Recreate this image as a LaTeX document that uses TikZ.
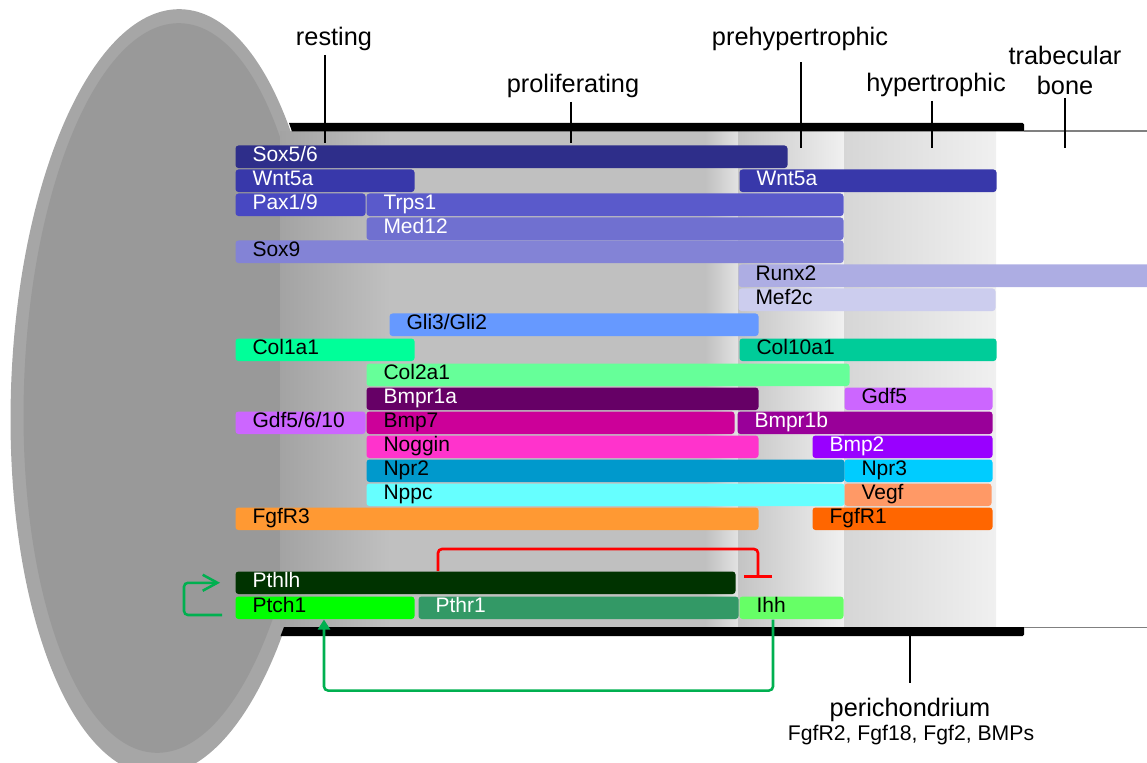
\documentclass[tikz,border=0pt]{standalone}
\usepackage{fontspec}
\setmainfont{Liberation Sans}
\usetikzlibrary{arrows.meta}

\definecolor{csoxfs}{HTML}{2E2E8A}
\definecolor{cwnt}{HTML}{3838AA}
\definecolor{cpax}{HTML}{4848C2}
\definecolor{ctrps}{HTML}{5A5ACB}
\definecolor{cmed}{HTML}{7070D0}
\definecolor{csoxn}{HTML}{8383D6}
\definecolor{crunx}{HTML}{ADADE3}
\definecolor{cmef}{HTML}{CCCDEE}
\definecolor{cgli}{HTML}{6699FF}
\definecolor{ccolA}{HTML}{00FF99}
\definecolor{ccolX}{HTML}{00CC99}
\definecolor{ccolB}{HTML}{66FF99}
\definecolor{cbmprA}{HTML}{660066}
\definecolor{cgdf}{HTML}{CC66FF}
\definecolor{cbmpS}{HTML}{CC0099}
\definecolor{cbmprB}{HTML}{990099}
\definecolor{cnog}{HTML}{FF33CC}
\definecolor{cbmpT}{HTML}{9900FF}
\definecolor{cnprB}{HTML}{0099CC}
\definecolor{cnprC}{HTML}{00CCFF}
\definecolor{cnppc}{HTML}{66FFFF}
\definecolor{cvegf}{HTML}{FF9966}
\definecolor{cfgfrC}{HTML}{FF9933}
\definecolor{cfgfrA}{HTML}{FF6600}
\definecolor{cpthlh}{HTML}{003300}
\definecolor{cptch}{HTML}{00FF00}
\definecolor{cpthr}{HTML}{339966}
\definecolor{cihh}{HTML}{66FF66}
\definecolor{cactiv}{HTML}{00B050}

\tikzset{every picture/.style={line width=0.75pt}}
\tikzset{
  gene/.style={anchor=north west, rounded corners=2.25pt, inner xsep=12.75pt, inner ysep=0pt,
    minimum height=16.9pt, align=left, text height=0.72em, text depth=0.08em,
    font=\fontsize{15.75}{18}\selectfont},
  wtext/.style={text=white},
  barlen/.code={\pgfmathsetmacro\barw{#1*0.75-25.5}\edef\barset{\noexpand\tikzset{text width=\barw pt}}\barset},
  zone/.style={anchor=base, inner sep=0.75pt, font=\fontsize{19}{22.5}\selectfont},
  tick/.style={line width=1.5pt, shorten <=1.5pt},
  inhib/.style={draw=red, line width=2pt, rounded corners=3pt, -{Bar[width=21pt]}},
  activ/.style={draw=cactiv, line width=1.9pt, rounded corners=3pt}
}

\begin{document}
\begin{tikzpicture}[x=0.75pt,y=0.75pt,yscale=-1,xscale=1]
\useasboundingbox (0,0) rectangle (1147,763);

%Shape: Ellipse (epiphysis)
\fill [color={rgb, 255:red, 166; green, 166; blue, 166 }, rotate around={2:(168,392)}] (168,392) ellipse (157 and 383) ;
\fill [color={rgb, 255:red, 153; green, 153; blue, 153 }, rotate around={2:(168,388)}] (168,388) ellipse (144 and 365) ;

%Shape: Rectangle (zones)
\shade [left color={rgb, 255:red, 163; green, 163; blue, 163 }, right color={rgb, 255:red, 192; green, 192; blue, 192 }] (280,131.5) rectangle (390,627) ;
\fill [color={rgb, 255:red, 192; green, 192; blue, 192 }] (389.5,131.5) rectangle (705.5,627) ;
\shade [left color={rgb, 255:red, 192; green, 192; blue, 192 }, right color={rgb, 255:red, 226; green, 226; blue, 226 }] (705,131.5) rectangle (738,627) ;
\shade [left color={rgb, 255:red, 196; green, 196; blue, 196 }, right color={rgb, 255:red, 240; green, 240; blue, 240 }] (738,131.5) rectangle (844,627) ;
\shade [left color={rgb, 255:red, 214; green, 214; blue, 214 }, middle color={rgb, 255:red, 203; green, 203; blue, 203 }, right color={rgb, 255:red, 240; green, 240; blue, 240 }] (844,131.5) rectangle (996,627) ;

%Shape: Polygon (perichondrium, top and bottom)
\fill (289,123) -- (1022.5,123) -- (1024,124.5) -- (1024,131.5) -- (292,131.5) -- cycle ;
\fill (284,627) -- (1024,627) -- (1024,634.5) -- (1022.5,636) -- (280.5,636) -- cycle ;
\draw [color=gray, line width=1pt] (1024,131) -- (1147,131) ;
\draw [color=gray, line width=1pt] (1024,627.5) -- (1147,627.5) ;

%Gene bars
\node [gene, fill=csoxfs, wtext, barlen=552] (soxfs) at (235,145) {Sox5/6};
\node [gene, fill=cwnt, wtext, barlen=179] (wntA) at (235,169) {Wnt5a};
\node [gene, fill=cwnt, wtext, barlen=257] (wntB) at (739,169) {Wnt5a};
\node [gene, fill=cpax, wtext, barlen=130] (pax) at (235,193) {Pax1/9};
\node [gene, fill=ctrps, wtext, barlen=477] (trps) at (366,193) {Trps1};
\node [gene, fill=cmed, wtext, barlen=477] (med) at (366,217) {Med12};
\node [gene, fill=csoxn, barlen=608] (soxn) at (235,240) {Sox9};
\node [gene, fill=crunx, barlen=420] (runx) at (738,264) {Runx2};
\node [gene, fill=cmef, barlen=257] (mef) at (738,288) {Mef2c};
\node [gene, fill=cgli, barlen=369] (gli) at (389,313) {Gli3/Gli2};
\node [gene, fill=ccolA, barlen=179] (colA) at (235,338) {Col1a1};
\node [gene, fill=ccolX, barlen=257] (colX) at (739,338) {Col10a1};
\node [gene, fill=ccolB, barlen=483] (colB) at (366,363) {Col2a1};
\node [gene, fill=cbmprA, wtext, barlen=392] (bmprA) at (366,387) {Bmpr1a};
\node [gene, fill=cgdf, barlen=148] (gdfA) at (844,387) {Gdf5};
\node [gene, fill=cgdf, barlen=130] (gdfB) at (235,411) {Gdf5/6/10};
\node [gene, fill=cbmpS, barlen=368] (bmpS) at (366,411) {Bmp7};
\node [gene, fill=cbmprB, wtext, barlen=255] (bmprB) at (737,411) {Bmpr1b};
\node [gene, fill=cnog, barlen=392] (nog) at (366,435) {Noggin};
\node [gene, fill=cbmpT, wtext, barlen=180] (bmpT) at (812,435) {Bmp2};
\node [gene, fill=cnprB, barlen=478] (nprB) at (366,459) {Npr2};
\node [gene, fill=cnprC, barlen=148] (nprC) at (844,459) {Npr3};
\node [gene, fill=cnppc, barlen=478] (nppc) at (366,483) {Nppc};
\node [gene, fill=cvegf, barlen=147] (vegf) at (844,483) {Vegf};
\node [gene, fill=cfgfrC, barlen=523] (fgfrC) at (235,507) {FgfR3};
\node [gene, fill=cfgfrA, barlen=180] (fgfrA) at (812,507) {FgfR1};
\node [gene, fill=cpthlh, wtext, barlen=500] (pthlh) at (235,571) {Pthlh};
\node [gene, fill=cptch, barlen=179] (ptch) at (235,596) {Ptch1};
\node [gene, fill=cpthr, wtext, barlen=320] (pthr) at (418,596) {Pthr1};
\node [gene, fill=cihh, barlen=104] (ihh) at (739,596) {Ihh};

%Zone labels
\node [zone] (resting) at (334,46) {resting};
\node [zone] (prolif) at (573,93) {proliferating};
\node [zone] (prehyp) at (800,46) {prehypertrophic};
\node [zone] (hypert) at (936,92) {hypertrophic};
\node [zone, anchor=south, align=center] (trabec) at (1065,96) {trabecular\\bone};
\node [zone] (perich) at (910,716) {perichondrium};
\node [zone, font=\fontsize{15.9}{18}\selectfont] (perichsub) at (911,740) {FgfR2, Fgf18, Fgf2, BMPs};

%Straight Lines (ticks)
\coordinate (tkrest) at (325,143);
\coordinate (tkprol) at (571,143);
\coordinate (tkpreh) at (801,148);
\coordinate (tkhyp) at (932,148);
\coordinate (tktrab) at (1065,148);
\coordinate (tkperi) at (910,636);
\draw [tick] (resting.south -| tkrest) -- (tkrest) ;
\draw [tick] (prolif.south -| tkprol) -- (tkprol) ;
\draw [tick, shorten <=7pt] (prehyp.south -| tkpreh) -- (tkpreh) ;
\draw [tick] (hypert.south -| tkhyp) -- (tkhyp) ;
\draw [tick] (trabec.south -| tktrab) -- (tktrab) ;
\draw [tick, shorten <=10pt] (perich.north -| tkperi) -- (tkperi) ;

%Right Angle (Pthlh inhibits Ihh)
\coordinate (inh) at (758,578);
\draw [inhib] ([xshift=152.25pt]pthlh.north west) -- ++(0,-22) -| (inh) ;

%Right Angle (Ihh activates Ptch1)
\draw [activ, -{Triangle[length=7.5pt,width=9pt]}] ([xshift=25.5pt]ihh.south west) -- ++(0,71) -| ([xshift=66.75pt]ptch.south west) ;

%Right Angle (Ptch1 loop to Pthlh)
\coordinate (loopA) at (222,615);
\draw [activ, -{Straight Barb[length=11pt,width=12pt]}] (loopA) -- ++(-38,0) |- ([xshift=-11.25pt]pthlh.west) ;

\end{tikzpicture}
\end{document}
